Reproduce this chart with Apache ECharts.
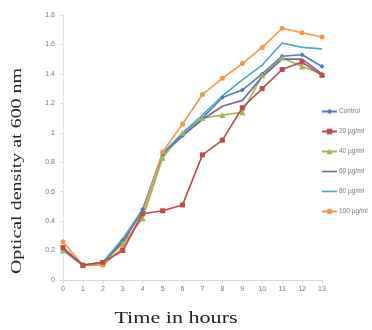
<!DOCTYPE html>
<html><head><meta charset="utf-8">
<script src="https://cdn.jsdelivr.net/npm/echarts@6/dist/echarts.min.js"></script>
<style>html,body{margin:0;padding:0;background:#fff}#c{width:372px;height:330px}</style>
</head><body><div id="c"></div>
<script>
const hours = [0,1,2,3,4,5,6,7,8,9,10,11,12,13];
const seriesNames = ['Control','20 µg/ml','40 µg/ml','60 µg/ml','80 µg/ml','100 µg/ml'];
const control = [0.21,0.10,0.12,0.27,0.48,0.85,0.98,1.10,1.24,1.29,1.40,1.52,1.53,1.45];
const c20 = [0.22,0.10,0.12,0.20,0.45,0.47,0.51,0.85,0.95,1.17,1.30,1.43,1.48,1.39];
const c40 = [0.20,0.10,0.11,0.25,0.42,0.83,1.00,1.10,1.12,1.14,1.39,1.51,1.45,1.40];
const c60 = [0.21,0.10,0.12,0.26,0.47,0.86,0.98,1.09,1.18,1.22,1.38,1.50,1.50,1.40];
const c80 = [0.22,0.10,0.12,0.28,0.48,0.86,1.00,1.12,1.25,1.36,1.46,1.61,1.58,1.57];
const c100 = [0.26,0.10,0.10,0.22,0.45,0.87,1.06,1.26,1.37,1.47,1.58,1.71,1.68,1.65];
const yTicks = [0,0.2,0.4,0.6,0.8,1,1.2,1.4,1.6,1.8];
const xTitle = 'Time in hours';
const yTitle = 'Optical density at 600 nm';
const colors = ['#4a7ebb','#be4b48','#98b954','#7d60a0','#46aac5','#f79646'];
const symbols = ['diamond','rect','triangle','none','none','circle'];
const allData = [control,c20,c40,c60,c80,c100];
const lineIcon = 'path://M0,0 L15,0 L15,1.6 L0,1.6 Z';

const chart = echarts.init(document.getElementById('c'));
chart.setOption({
  animation:false,
  grid:{left:63,right:50,top:15,bottom:50},
  legend:{
    orient:'vertical', left:316, top:103, itemGap:13, itemWidth:15, itemHeight:7,
    textStyle:{fontSize:6.5,color:'#777',fontFamily:'Liberation Sans',padding:[0,0,0,-3]},
    data:seriesNames.map((n,i)=>symbols[i]==='none'?{name:n,icon:lineIcon}:{name:n})
  },
  graphic:[
    {type:'text',x:176,y:319,scaleX:1.3,
      style:{text:xTitle,font:'17px "Liberation Serif"',fill:'#222',textAlign:'center',textVerticalAlign:'middle'}},
    {type:'text',x:17,y:171,rotation:Math.PI/2,scaleX:1.33,
      style:{text:yTitle,font:'15px "Liberation Serif"',fill:'#222',textAlign:'center',textVerticalAlign:'middle'}}
  ],
  xAxis:{type:'value',min:0,max:13,interval:1,
    axisLine:{lineStyle:{color:'#d8d8d8'}},
    axisTick:{show:true,length:3,lineStyle:{color:'#d8d8d8'}},
    splitLine:{show:false},
    axisLabel:{fontSize:7,color:'#777',margin:6,fontFamily:'Liberation Sans'}
  },
  yAxis:{type:'value',min:0,max:1.8,interval:0.2,
    axisLine:{show:true,lineStyle:{color:'#e4e4e4'}},
    axisTick:{show:true,length:3,lineStyle:{color:'#d8d8d8'}},
    splitLine:{show:false},
    axisLabel:{fontSize:7,color:'#777',margin:8,fontFamily:'Liberation Sans',
      formatter:v=>{const t=yTicks.find(x=>Math.abs(x-v)<1e-6);return t===undefined?'':String(t);}}
  },
  series:allData.map((d,i)=>({
    name:seriesNames[i],type:'line',
    data:hours.map((h,j)=>[h,d[j]]),
    symbol:symbols[i],symbolSize:symbols[i]==='triangle'?6:5,showSymbol:symbols[i]!=='none',
    lineStyle:{width:1.6,color:colors[i]},itemStyle:{color:colors[i]},
    z:i===1?5:2
  }))
});
</script></body></html>
